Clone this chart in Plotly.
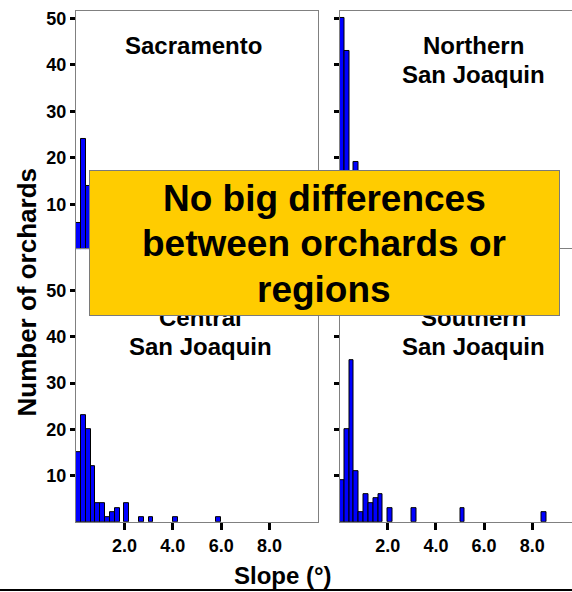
import plotly.graph_objects as go

# Orchard slope histograms, 0.2° bins (bin start, orchard count)
bin_width = 0.2

sac_slope = [0.0, 0.2, 0.4, 0.6, 0.8, 1.0, 1.2, 1.4, 2.0]
sac_count = [6, 24, 14, 9, 5, 3, 2, 1, 1]

nsj_slope = [0.0, 0.2, 0.4, 0.6, 0.8, 1.0, 1.2, 1.6]
nsj_count = [50, 43, 12, 19, 8, 4, 2, 1]

csj_slope = [0.0, 0.2, 0.4, 0.6, 0.8, 1.0, 1.2, 1.4, 1.6, 2.0, 2.6, 3.0, 4.0, 5.8]
csj_count = [15, 23, 20, 12, 4, 4, 1, 2, 3, 4, 1, 1, 1, 1]

ssj_slope = [0.0, 0.2, 0.4, 0.6, 0.8, 1.0, 1.2, 1.4, 1.6, 2.0, 3.0, 5.0, 8.4]
ssj_count = [9, 20, 35, 11, 2, 6, 4, 5, 6, 3, 3, 3, 2]

region_titles = [["Sacramento"], ["Northern", "San Joaquin"],
                 ["Central", "San Joaquin"], ["Southern", "San Joaquin"]]
x_ticks = [2, 4, 6, 8]
x_tick_text = ["2.0", "4.0", "6.0", "8.0"]
y_ticks = [10, 20, 30, 40, 50]
y_tick_text = ["10", "20", "30", "40", "50"]
callout_lines = ["No big differences", "between orchards or", "regions"]

W, H = 572, 592
FONT = "Liberation Sans, Arial, sans-serif"


def px(x):
    return x / W


def py(y):
    return 1 - y / H


fig = go.Figure()

series = [(sac_slope, sac_count), (nsj_slope, nsj_count),
          (csj_slope, csj_count), (ssj_slope, ssj_count)]
for i, (s, c) in enumerate(series):
    suffix = "" if i == 0 else str(i + 1)
    fig.add_trace(go.Bar(
        x=s, y=c, width=bin_width, offset=0,
        marker=dict(color="#0000FF", line=dict(color="black", width=1)),
        xaxis="x" + suffix, yaxis="y" + suffix, showlegend=False,
        hoverinfo="skip"))

# panel geometry (pixel edges)
left_x = (76, 318)
right_x = (339.5, 572)
top_y = (249.5, 9)
bot_y = (521.5, 248)

tickfont = dict(family=FONT, size=18, color="black", weight="bold")

panels = [
    (left_x, top_y, [0, 10], [0, 51.6], True, False),
    (right_x, top_y, [0, (572 - 339.5) / 24.1], [0, 51.6], False, False),
    (left_x, bot_y, [0, 10], [0, 59], True, True),
    (right_x, bot_y, [0, (572 - 339.5) / 24.1], [0, 59], False, True),
]

layout = {}
for i, (xd, yd, xr, yr, left, bottom) in enumerate(panels):
    suffix = "" if i == 0 else str(i + 1)
    layout["xaxis" + suffix] = dict(
        domain=[px(xd[0]), px(xd[1])], range=xr, anchor="y" + suffix,
        showline=True, linecolor="#808080", linewidth=1, mirror=True,
        showgrid=False, zeroline=False,
        tickmode="array", tickvals=x_ticks, ticktext=x_tick_text,
        ticks="outside" if bottom else "", ticklen=7, tickwidth=3,
        tickcolor="black", showticklabels=bottom, tickfont=tickfont,
        ticklabelstandoff=1, fixedrange=True)
    layout["yaxis" + suffix] = dict(
        domain=[py(yd[0]), py(yd[1])], range=yr, anchor="x" + suffix,
        showline=True, linecolor="#808080", linewidth=1, mirror=left,
        showgrid=False, zeroline=False,
        tickmode="array", tickvals=y_ticks, ticktext=y_tick_text,
        ticks="outside", ticklen=5, tickwidth=3, tickcolor="black",
        showticklabels=left, tickfont=tickfont, fixedrange=True)

annotations = []
title_pos = [(193.5, 44), (473.5, 44), (200, 317), (473.5, 317)]
for (cx, cy), lines in zip(title_pos, region_titles):
    for k, line in enumerate(lines):
        annotations.append(dict(
            text=line, x=px(cx), y=py(cy + 28.3 * k), xref="paper", yref="paper",
            xanchor="center", yanchor="middle", showarrow=False,
            font=dict(family=FONT, size=24, color="black", weight="bold")))

# callout box, drawn over the panel titles
box_l, box_r, box_t, box_b = 88.7, 560, 169, 315
annotations.append(dict(
    text="", x=px((box_l + box_r) / 2), y=py((box_t + box_b) / 2),
    xref="paper", yref="paper", xanchor="center", yanchor="middle",
    showarrow=False, width=box_r - box_l - 2, height=box_b - box_t - 2,
    bgcolor="#FFCC00", bordercolor="#7a7a7a", borderwidth=1, borderpad=0))

# callout text lines
for k, line in enumerate(callout_lines):
    annotations.append(dict(
        text=line, x=px(324.4), y=py(197 + 45.5 * k), xref="paper", yref="paper",
        xanchor="center", yanchor="middle", showarrow=False,
        font=dict(family=FONT, size=37, color="black", weight="bold")))

annotations.append(dict(
    text="Slope (°)", x=px(283), y=py(575), xref="paper", yref="paper",
    xanchor="center", yanchor="middle", showarrow=False,
    font=dict(family=FONT, size=24, color="black", weight="bold")))
annotations.append(dict(
    text="Number of orchards", x=px(27), y=py(291.5), xref="paper", yref="paper",
    xanchor="center", yanchor="middle", showarrow=False, textangle=-90,
    font=dict(family=FONT, size=26, color="black", weight="bold")))

shapes = [
    dict(type="line", xref="paper", yref="paper",
         x0=0, x1=1, y0=py(590), y1=py(590),
         line=dict(color="black", width=2)),
]

fig.update_layout(
    width=W, height=H, margin=dict(l=0, r=0, t=0, b=0),
    paper_bgcolor="white", plot_bgcolor="white",
    bargap=0, annotations=annotations, shapes=shapes, **layout)

fig.write_html("out.html")
